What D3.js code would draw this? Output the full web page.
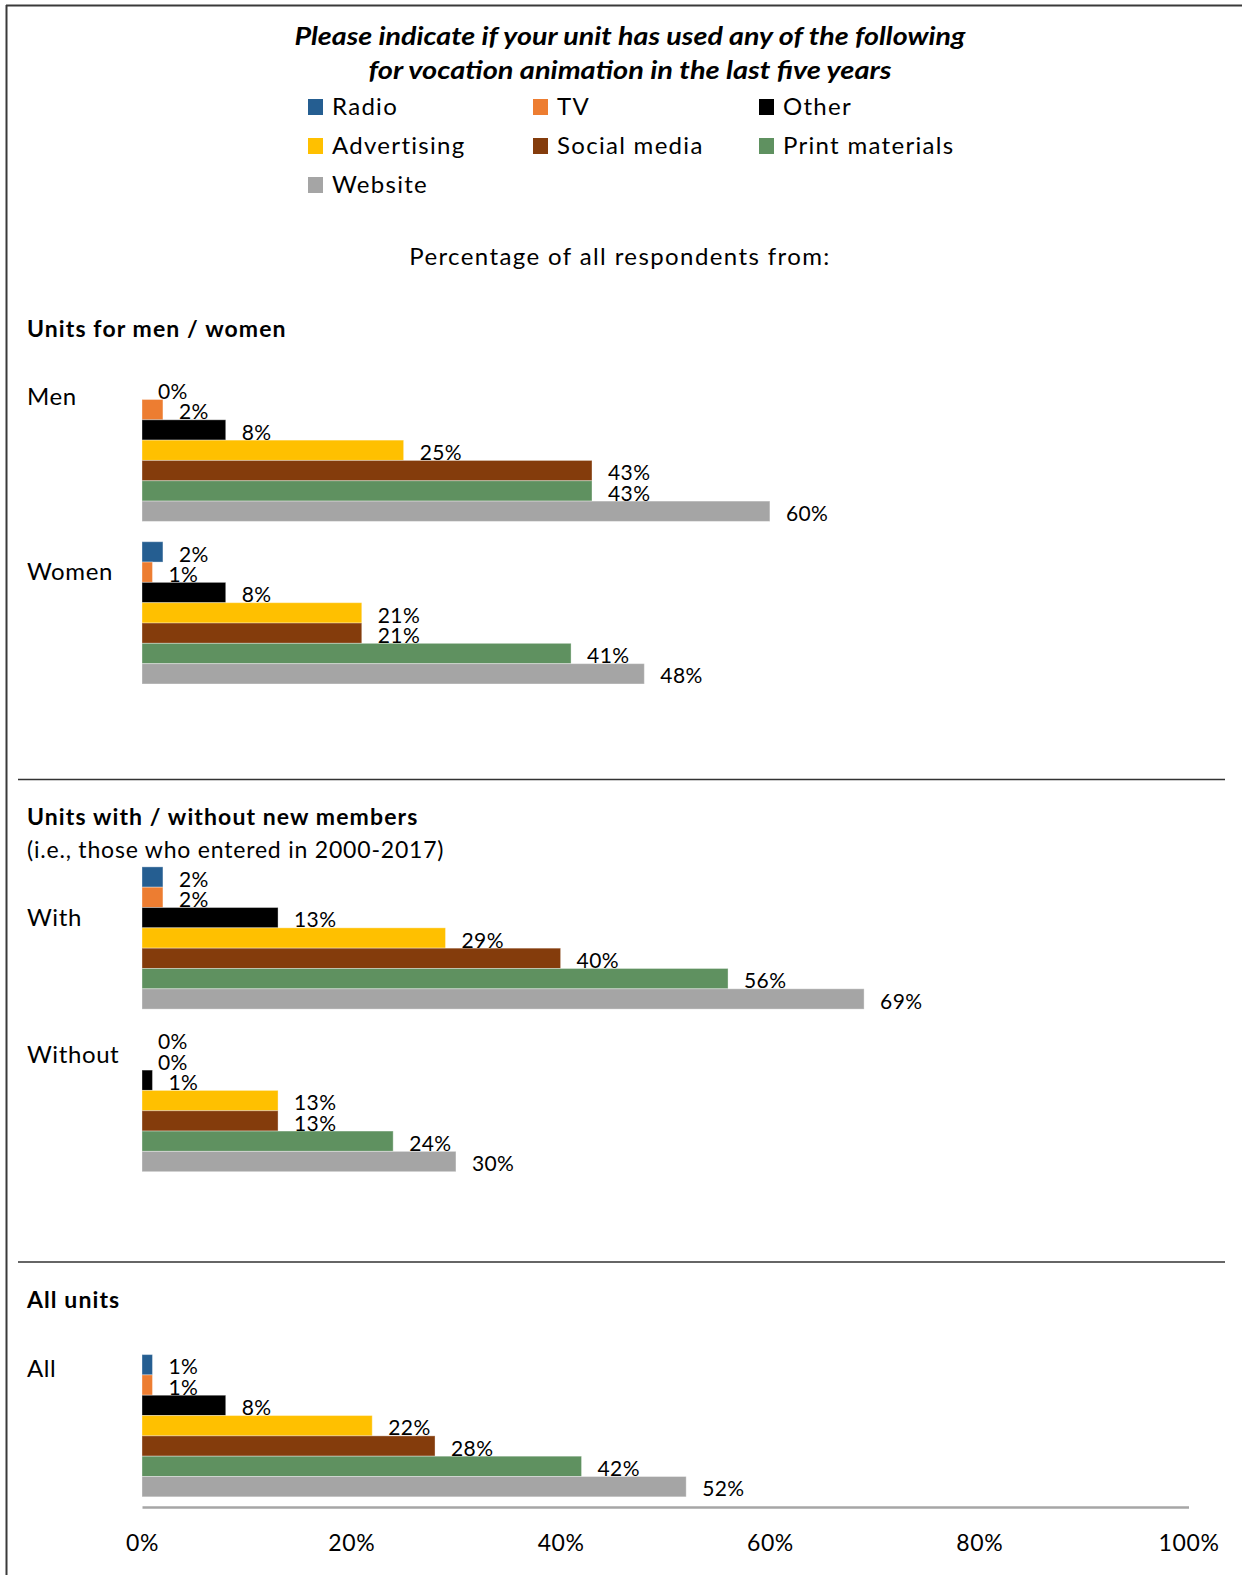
<!DOCTYPE html>
<html>
<head>
<meta charset="utf-8">
<script src="https://cdn.jsdelivr.net/npm/d3@7"></script>
<style>
  html, body { margin: 0; padding: 0; background: #fff; }
  svg { display: block; font-family: Lato, "Open Sans", sans-serif; }
</style>
</head>
<body>
<svg id="chart" width="1242" height="1575"></svg>
<script>
// ---- data ----
const series = ["Radio", "TV", "Other", "Advertising", "Social media", "Print materials", "Website"];
const colors = ["#255E91", "#ED7D31", "#000000", "#FFC000", "#843C0C", "#5F9160", "#A5A5A5"];

const sectionTitles = ["Units for men / women", "Units with / without new members", "All units"];
const sectionNotes = ["", "(i.e., those who entered in 2000-2017)", ""];
const sectionGroups = [["Men", "Women"], ["With", "Without"], ["All"]];

// percent of respondents, one entry per group: Men, Women, With, Without, All
const groups = ["Men", "Women", "With", "Without", "All"];
const radio       = [0, 2, 2, 0, 1];
const tv          = [2, 1, 2, 0, 1];
const other       = [8, 8, 13, 1, 8];
const advertising = [25, 21, 29, 13, 22];
const socialMedia = [43, 21, 40, 13, 28];
const printMats   = [43, 41, 56, 24, 42];
const website     = [60, 48, 69, 30, 52];
const seriesValues = [radio, tv, other, advertising, socialMedia, printMats, website];

const tickValues = [0, 0.2, 0.4, 0.6, 0.8, 1.0];

// ---- layout ----
const svg = d3.select("#chart");

// category slots: the groups of each section, with an empty slot between sections
const slots = [];
sectionGroups.forEach((g, i) => {
  g.forEach(name => slots.push(name));
  if (i < sectionGroups.length - 1) slots.push("__gap" + i);
});

const x = d3.scaleLinear().domain([0, 1]).range([142, 1188.5]);
const y0 = d3.scaleBand().domain(slots).range([369, 1507]).padding(0);
const y1 = d3.scaleBand().domain(series).range([0, y0.bandwidth()])
  .paddingInner(0).paddingOuter(0.5);
const color = d3.scaleOrdinal().domain(series).range(colors);

// frame (top and left edges visible)
svg.append("line").attr("x1", 6).attr("x2", 1242).attr("y1", 5.5).attr("y2", 5.5)
  .attr("stroke", "#3a3a3a").attr("stroke-width", 2);
svg.append("line").attr("x1", 6.5).attr("x2", 6.5).attr("y1", 5).attr("y2", 1575)
  .attr("stroke", "#3a3a3a").attr("stroke-width", 2);

// title
const title = svg.append("text").attr("text-anchor", "middle")
  .attr("font-weight", "bold").attr("font-style", "italic").attr("font-size", 24).attr("fill", "#000");
title.append("tspan").attr("x", 630).attr("y", 45)
  .attr("textLength", 671).attr("lengthAdjust", "spacingAndGlyphs")
  .text("Please indicate if your unit has used any of the following");
title.append("tspan").attr("x", 630).attr("y", 79)
  .attr("textLength", 523).attr("lengthAdjust", "spacingAndGlyphs")
  .text("for vocation animation in the last five years");

// legend: three columns, filled row by row
const legCols = [308, 533, 759];
const legRows = [99, 138, 177];
const legend = svg.append("g").selectAll("g").data(series).join("g")
  .attr("transform", (d, i) => `translate(${legCols[i % 3]},${legRows[Math.floor(i / 3)]})`);
legend.append("rect").attr("width", 15).attr("height", 16).attr("fill", d => color(d));
legend.append("text").attr("x", 24).attr("y", 16).attr("font-size", 24)
  .attr("letter-spacing", 1.3).attr("fill", "#000")
  .text(d => d);

// subtitle
svg.append("text").attr("x", 620).attr("y", 265).attr("text-anchor", "middle")
  .attr("font-size", 24).attr("letter-spacing", 1.4).attr("fill", "#000")
  .text("Percentage of all respondents from:");

// section headings
const headingY = [337, 825, 1308];
sectionTitles.forEach((t, i) => {
  svg.append("text").attr("x", 27).attr("y", headingY[i])
    .attr("font-size", 23).attr("font-weight", "bold").attr("letter-spacing", 1.1)
    .attr("fill", "#000").text(t);
  if (sectionNotes[i]) {
    svg.append("text").attr("x", 27).attr("y", headingY[i] + 33)
      .attr("font-size", 23).attr("letter-spacing", 0.8).attr("fill", "#000").text(sectionNotes[i]);
  }
});

// section dividers
[779.5, 1262].forEach(yy => {
  svg.append("line").attr("x1", 18).attr("x2", 1225).attr("y1", yy).attr("y2", yy)
    .attr("stroke", "#333").attr("stroke-width", 1.5);
});

// group labels (baseline offset from the top of each group's band)
const groupLabelOffset = { Men: 36, Women: 48.5, With: 69, Without: 44, All: 33 };
svg.append("g").selectAll("text").data(groups).join("text")
  .attr("x", 27).attr("y", d => y0(d) + groupLabelOffset[d])
  .attr("font-size", 24).attr("letter-spacing", 0.6).attr("fill", "#000").text(d => d);

// bars
const rows = [];
groups.forEach((g, gi) => {
  series.forEach((s, si) => rows.push({ group: g, series: s, value: seriesValues[si][gi] / 100 }));
});

const plot = svg.append("g");
plot.selectAll("rect").data(rows.filter(d => d.value > 0)).join("rect")
  .attr("x", x(0))
  .attr("y", d => y0(d.group) + y1(d.series))
  .attr("width", d => x(d.value) - x(0))
  .attr("height", y1.bandwidth())
  .attr("fill", d => color(d.series))
  .attr("stroke", "rgba(255,255,255,0.35)").attr("stroke-width", 1);

// value labels
plot.selectAll("text").data(rows).join("text")
  .attr("x", d => x(d.value) + 16)
  .attr("y", d => y0(d.group) + y1(d.series) + y1.bandwidth() - 0.5)
  .attr("font-size", 21).attr("letter-spacing", 0.4).attr("fill", "#000")
  .text(d => d3.format(".0%")(d.value));

// axis
const axis = svg.append("g").attr("transform", `translate(0,${y0.range()[1]})`)
  .call(d3.axisBottom(x).tickValues(tickValues).tickFormat(d3.format(".0%"))
    .tickSizeInner(0).tickSizeOuter(0).tickPadding(28));
axis.select(".domain").attr("stroke", "#A6A6A6").attr("stroke-width", 2.5);
axis.selectAll(".tick text").attr("font-size", 23).attr("letter-spacing", 0.6).attr("fill", "#000")
  .attr("font-family", "Lato, 'Open Sans', sans-serif");
</script>
</body>
</html>
